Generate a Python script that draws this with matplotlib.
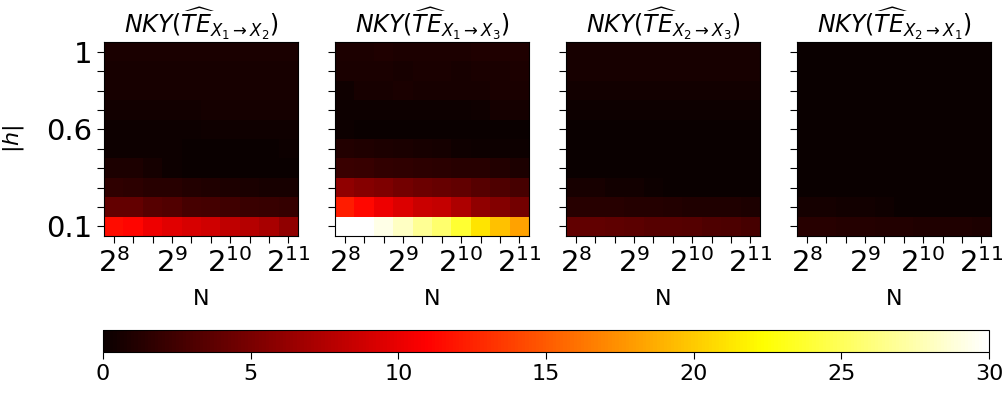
import matplotlib.pyplot as plt
import numpy as np

# |h| rows (bottom to top) and N columns (2^8 ... 2^11, thirds of an octave)
h_labels = ['0.1', '', '', '', '', '0.6', '', '', '', '1']
n_labels = ['$2^{8}$', '', '', '$2^{9}$', '', '', '$2^{10}$', '', '', '$2^{11}$']

titles = [r'$NKY(\widehat{TE}_{X_1\rightarrow X_2})$',
          r'$NKY(\widehat{TE}_{X_1\rightarrow X_3})$',
          r'$NKY(\widehat{TE}_{X_2\rightarrow X_3})$',
          r'$NKY(\widehat{TE}_{X_2\rightarrow X_1})$']

te_12 = [
    [11.5, 11.2, 10.3, 9.7, 9.2, 8.8, 8.2, 7.7, 7.1, 6.0],
    [4.1, 4.0, 3.4, 3.2, 2.8, 2.6, 2.4, 2.2, 2.1, 1.9],
    [1.7, 1.6, 1.4, 1.3, 1.1, 1.0, 0.9, 0.8, 0.7, 0.6],
    [0.9, 0.9, 0.5, 0.2, 0.1, 0.1, 0.1, 0.1, 0.1, 0.1],
    [0.15, 0.15, 0.15, 0.15, 0.05, 0.05, 0.05, 0.05, 0.05, 0.2],
    [0.2, 0.2, 0.2, 0.2, 0.2, 0.35, 0.35, 0.35, 0.35, 0.35],
    [0.45, 0.45, 0.45, 0.45, 0.45, 0.5, 0.5, 0.5, 0.5, 0.5],
    [0.6, 0.6, 0.6, 0.6, 0.6, 0.6, 0.6, 0.6, 0.6, 0.6],
    [0.7, 0.7, 0.7, 0.7, 0.7, 0.7, 0.7, 0.7, 0.7, 0.7],
    [0.8, 0.8, 0.8, 0.8, 0.8, 0.8, 0.8, 0.8, 0.8, 0.8],
]
te_13 = [
    [30.0, 30.0, 29.2, 28.2, 26.8, 25.6, 23.8, 21.2, 19.6, 18.2],
    [12.2, 11.3, 10.3, 9.4, 8.6, 8.4, 7.3, 6.0, 5.4, 4.7],
    [6.0, 5.6, 5.2, 4.8, 4.4, 4.2, 3.9, 3.5, 3.1, 2.8],
    [2.2, 2.0, 1.8, 1.7, 1.6, 1.5, 1.4, 1.3, 1.1, 0.9],
    [1.1, 1.0, 0.9, 0.8, 0.7, 0.5, 0.3, 0.2, 0.2, 0.2],
    [0.2, 0.1, 0.1, 0.1, 0.1, 0.1, 0.1, 0.1, 0.1, 0.1],
    [0.2, 0.2, 0.2, 0.2, 0.2, 0.2, 0.2, 0.3, 0.5, 0.5],
    [0.3, 0.7, 0.7, 0.8, 0.7, 0.7, 0.7, 0.6, 0.8, 0.8],
    [0.8, 0.8, 0.8, 0.7, 0.8, 0.8, 0.7, 0.8, 0.8, 0.9],
    [0.9, 0.9, 1.0, 0.9, 0.9, 0.9, 0.9, 1.0, 1.0, 1.0],
]
te_23 = [
    [3.9, 3.9, 3.8, 3.7, 3.5, 3.4, 3.3, 3.1, 3.0, 2.8],
    [1.4, 1.4, 1.3, 1.2, 1.2, 1.1, 1.0, 1.0, 1.0, 0.9],
    [0.6, 0.6, 0.4, 0.4, 0.2, 0.1, 0.1, 0.1, 0.1, 0.1],
    [0.1, 0.1, 0.1, 0.1, 0.1, 0.1, 0.1, 0.1, 0.1, 0.1],
    [0.1, 0.1, 0.1, 0.1, 0.1, 0.1, 0.1, 0.1, 0.1, 0.1],
    [0.1, 0.1, 0.1, 0.1, 0.1, 0.1, 0.1, 0.1, 0.1, 0.1],
    [0.2, 0.2, 0.2, 0.2, 0.2, 0.2, 0.2, 0.2, 0.2, 0.2],
    [0.4, 0.4, 0.4, 0.4, 0.4, 0.4, 0.4, 0.4, 0.4, 0.4],
    [0.6, 0.6, 0.6, 0.6, 0.6, 0.6, 0.6, 0.6, 0.6, 0.6],
    [0.7, 0.7, 0.7, 0.7, 0.7, 0.7, 0.7, 0.7, 0.7, 0.7],
]
te_21 = [
    [1.3, 1.3, 1.2, 1.2, 1.1, 1.1, 1.0, 1.0, 1.0, 0.9],
    [0.5, 0.5, 0.4, 0.4, 0.3, 0.1, 0.1, 0.1, 0.1, 0.1],
    [0.05, 0.05, 0.05, 0.05, 0.05, 0.05, 0.05, 0.05, 0.05, 0.05],
    [0.05, 0.05, 0.05, 0.05, 0.05, 0.05, 0.05, 0.05, 0.05, 0.05],
    [0.05, 0.05, 0.05, 0.05, 0.05, 0.05, 0.05, 0.05, 0.05, 0.05],
    [0.05, 0.05, 0.05, 0.05, 0.05, 0.05, 0.05, 0.05, 0.05, 0.05],
    [0.05, 0.05, 0.05, 0.05, 0.05, 0.05, 0.05, 0.05, 0.05, 0.05],
    [0.05, 0.05, 0.05, 0.05, 0.05, 0.05, 0.05, 0.05, 0.05, 0.05],
    [0.05, 0.05, 0.05, 0.05, 0.05, 0.05, 0.05, 0.05, 0.05, 0.05],
    [0.05, 0.05, 0.05, 0.05, 0.05, 0.05, 0.05, 0.05, 0.05, 0.05],
]
panels = [te_12, te_13, te_23, te_21]

fig = plt.figure(figsize=(10.06, 3.96), dpi=100)

lefts = [104, 335, 566, 797]
for i, (data, title) in enumerate(zip(panels, titles)):
    ax = fig.add_axes([lefts[i] / 1006, (396 - 236) / 396, 194 / 1006, 194 / 396])
    im = ax.imshow(np.array(data), cmap='hot', vmin=0, vmax=30,
                   origin='lower', aspect='auto', interpolation='nearest')
    ax.set_title(title, fontsize=17, pad=6)
    ax.set_xticks(range(len(n_labels)))
    ax.set_xticklabels(n_labels, fontsize=21)
    ax.set_yticks(range(len(h_labels)))
    if i == 0:
        ax.set_yticklabels(h_labels, fontsize=21)
        ax.set_ylabel('$|h|$', fontsize=16, labelpad=14)
    else:
        ax.set_yticklabels([])
    ax.set_xlabel('N', fontsize=16, labelpad=8)
    ax.tick_params(length=5)

cax = fig.add_axes([103 / 1006, (396 - 352) / 396, 886 / 1006, 22 / 396])
cb = fig.colorbar(im, cax=cax, orientation='horizontal')
cb.set_ticks([0, 5, 10, 15, 20, 25, 30])
cb.ax.tick_params(labelsize=16, length=5)

fig.savefig('out.png', dpi=100)
